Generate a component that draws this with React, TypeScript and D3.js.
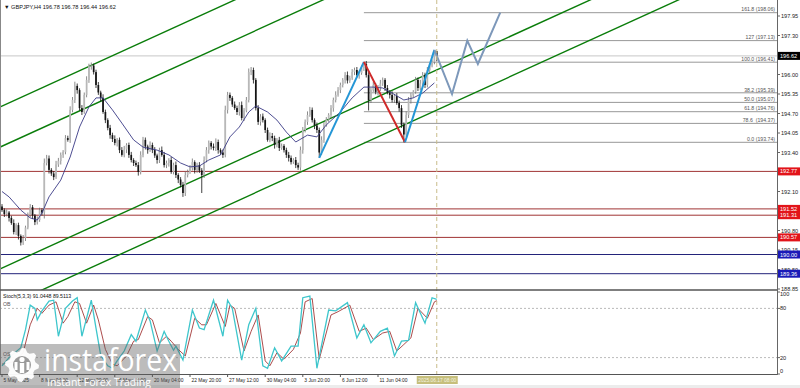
import React, { useMemo } from 'react';
import * as d3 from 'd3';

// ---------- DATA ----------
const firstOpen = 191.6;
const closes = [
  191.48, 191.35, 191.4, 191.22, 191.05, 190.75, 190.98, 190.62, 190.4, 190.55,
  190.9, 191.32, 191.58, 191.3, 191.08, 191.15, 191.48, 191.4, 193.05, 193.2,
  192.82, 192.7, 192.58, 193.0, 193.12, 193.32, 193.42, 193.88, 193.82, 194.82,
  195.15, 195.62, 195.48, 194.88, 194.75, 195.32, 195.82, 196.28, 196.3, 196.08,
  195.65, 195.4, 195.22, 194.75, 194.48, 194.22, 193.98, 193.85, 193.72, 193.82,
  193.48, 193.32, 193.5, 193.65, 193.32, 193.15, 193.05, 192.98, 192.75, 193.32,
  193.82, 193.6, 193.48, 193.65, 193.48, 193.3, 193.15, 193.48, 193.32, 192.98,
  193.05, 193.15, 192.75, 192.98, 192.65, 192.5, 192.32, 192.05, 192.65, 192.75,
  192.88, 193.08, 192.82, 192.98, 192.8, 192.65, 193.15, 193.48, 193.72, 193.6,
  193.55, 193.75, 193.48, 193.4, 193.32, 194.82, 195.32, 195.22, 195.0, 194.88,
  194.75, 194.98, 194.55, 194.8, 195.15, 196.08, 196.15, 195.82, 194.88, 194.42,
  194.6, 194.48, 194.15, 193.82, 193.95, 193.88, 193.65, 193.82, 193.55, 193.62,
  193.48, 193.32, 193.22, 193.08, 193.15, 192.98, 192.9, 193.48, 194.15, 194.42,
  194.65, 194.82, 194.48, 194.3, 194.15, 193.4, 193.82, 194.32, 194.5, 194.65,
  194.88, 195.15, 195.32, 195.48, 195.65, 195.82, 195.98, 195.8, 195.88, 196.08,
  196.15, 195.98, 196.05, 196.22, 196.35, 195.98, 195.15, 195.48, 195.65, 195.42,
  195.55, 195.7, 195.82, 195.55, 195.4, 195.32, 195.15, 195.28, 195.05, 194.88,
  194.32, 194.0, 194.65, 195.15, 195.3, 195.42, 195.82, 195.55, 195.7, 195.98,
  195.65, 196.15, 196.3, 196.42, 196.78, 196.62,
];
// wick extents beyond the body, in hundredths of a yen
const wickUp = [
  8, 6, 10, 5, 7, 12, 6, 8, 5, 10,
  6, 8, 10, 7, 5, 12, 8, 6, 15, 12,
  10, 6, 8, 12, 10, 8, 6, 10, 8, 12,
  10, 14, 8, 6, 10, 8, 12, 8, 10, 6,
  8, 10, 6, 12, 8, 6, 10, 8, 12, 6,
  8, 10, 12, 6, 8, 10, 6, 8, 10, 12,
  10, 8, 6, 12, 8, 10, 6, 8, 12, 10,
  8, 6, 10, 8, 12, 6, 8, 10, 12, 8,
  10, 12, 6, 8, 10, 8, 12, 10, 8, 6,
  10, 12, 8, 6, 10, 14, 10, 8, 6, 10,
  8, 10, 12, 8, 10, 12, 10, 8, 6, 10,
  8, 10, 6, 8, 12, 10, 8, 6, 10, 8,
  6, 8, 10, 8, 6, 10, 8, 12, 10, 8,
  12, 10, 8, 6, 10, 8, 12, 10, 8, 6,
  10, 8, 12, 10, 8, 6, 10, 12, 8, 10,
  8, 10, 6, 8, 7, 10, 12, 8, 10, 6,
  10, 12, 8, 6, 10, 8, 12, 6, 10, 8,
  10, 8, 12, 10, 8, 6, 10, 8, 12, 10,
  8, 10, 6, 8, 2, 0,
];
const wickDn = [
  6, 10, 8, 12, 6, 8, 10, 12, 10, 8,
  10, 6, 8, 12, 10, 8, 6, 10, 20, 8,
  12, 8, 10, 6, 8, 12, 10, 8, 6, 10,
  8, 10, 12, 8, 10, 6, 8, 10, 12, 8,
  10, 8, 12, 6, 10, 8, 12, 10, 8, 12,
  10, 6, 8, 12, 10, 8, 10, 6, 12, 8,
  8, 10, 12, 6, 10, 8, 12, 10, 6, 8,
  10, 12, 6, 8, 10, 12, 8, 13, 10, 8,
  6, 8, 12, 10, 8, 60, 10, 8, 12, 10,
  8, 10, 12, 8, 10, 8, 12, 10, 8, 6,
  10, 12, 8, 10, 6, 8, 10, 12, 8, 10,
  12, 8, 10, 6, 8, 10, 12, 8, 10, 6,
  8, 10, 12, 8, 6, 10, 8, 10, 12, 8,
  10, 6, 8, 12, 10, 18, 8, 10, 6, 8,
  10, 12, 8, 6, 10, 8, 12, 10, 8, 6,
  10, 8, 12, 6, 10, 8, 35, 10, 6, 8,
  12, 10, 8, 10, 6, 12, 8, 10, 6, 12,
  10, 26, 8, 10, 12, 8, 6, 10, 8, 12,
  10, 8, 12, 6, 8, 18,
];

// moving average
const maIdx = [0, 3, 8, 12, 15, 17, 20, 25, 29, 33, 37, 40, 43, 47, 51, 56, 60, 66, 71, 76, 80, 84, 88, 93, 97, 101, 105, 108, 113, 117, 121, 125, 130, 134, 138, 144, 149, 154, 158, 162, 166, 171, 175, 179, 184];
const maVal = [192.1, 191.92, 191.48, 191.22, 191.15, 191.38, 191.92, 192.48, 193.25, 194.25, 194.92, 195.22, 195.22, 194.82, 194.38, 193.82, 193.58, 193.48, 193.32, 193.05, 192.92, 192.95, 193.15, 193.32, 193.92, 194.25, 194.75, 194.95, 194.75, 194.48, 194.08, 193.75, 193.98, 193.92, 194.32, 194.75, 195.22, 195.58, 195.58, 195.55, 195.38, 195.15, 195.22, 195.38, 195.72];

// stochastic (5,3,3)
const stMainIdx = [0, 3, 8, 10, 12, 14, 15, 17, 20, 22, 24, 27, 30, 32, 34, 38, 40, 42, 45, 47, 49, 52, 55, 57, 61, 63, 66, 69, 71, 73, 74, 77, 81, 84, 86, 90, 94, 96, 98, 102, 105, 108, 111, 113, 116, 119, 123, 126, 128, 131, 134, 139, 142, 147, 151, 154, 157, 161, 164, 167, 170, 173, 176, 180, 183, 185];
const stMainVal = [10, 20, 32, 54, 84, 80, 66, 77, 89, 90, 46, 80, 89, 93, 46, 90, 56, 23, 10, 7, 16, 28, 48, 40, 78, 65, 28, 52, 40, 29, 34, 17, 78, 56, 54, 90, 46, 90, 80, 17, 60, 80, 10, 7, 32, 16, 34, 34, 93, 95, 7, 78, 77, 87, 44, 60, 38, 52, 56, 22, 40, 41, 87, 62, 93, 91.04];
const stSigIdx = [0, 5, 9, 12, 15, 17, 20, 23, 26, 28, 31, 33, 36, 39, 41, 44, 47, 49, 53, 56, 58, 62, 64, 67, 70, 72, 75, 78, 82, 85, 87, 91, 95, 97, 99, 103, 106, 109, 112, 114, 117, 120, 124, 127, 129, 132, 135, 140, 143, 148, 152, 155, 158, 162, 165, 168, 171, 174, 177, 181, 184, 185];
const stSigVal = [12, 15, 26, 60, 80, 74, 84, 88, 62, 70, 88, 86, 62, 84, 66, 30, 12, 10, 22, 40, 42, 70, 66, 38, 46, 40, 30, 22, 68, 60, 60, 86, 58, 84, 80, 28, 52, 72, 16, 10, 26, 18, 30, 50, 88, 92, 18, 72, 76, 84, 52, 56, 42, 50, 52, 28, 36, 44, 80, 68, 88, 89.51];

const priceTicks = [197.95, 197.3, 196.65, 196.0, 195.35, 194.7, 194.05, 193.4, 192.75, 192.1, 191.45, 190.8, 190.15, 189.5, 188.85];
const redLevels = [192.77, 191.52, 191.31, 190.57];
const blueLevels = [190.0, 189.36];
const currentPrice = 196.62;

const fibNames = ['161.8', '127', '100.0', '38.2', '50.0', '61.8', '78.6 ', '0.0'];
const fibPrices = [198.06, 197.13, 196.41, 195.39, 195.07, 194.76, 194.37, 193.74];
const fibStartIdx = 154;

const channelBase = [194.95, 193.61, 189.55, 188.21]; // price at bar 0
const channelSlope = 0.0357; // per bar

const zigUp1 = [[135, 193.22], [154, 196.42]];
const zigDown = [[154, 196.42], [171.5, 193.74]];
const zigUp2 = [[171.5, 193.74], [184, 196.82]];
const projIdx = [184, 191.5, 198, 202.5, 212];
const projVal = [196.82, 195.35, 197.13, 196.35, 198.06];

const tickEvery = 16;
const nowIdx = 185;

// ---------- LAYOUT ----------
const W = 800;
const H = 388;
const AX = 777;
const MAIN_BOT = 290;
const ST_TOP = 291;
const ST_BOT = 374;
const FONT = "'Liberation Sans', Arial, sans-serif";

function gearPath(cx: number, cy: number, r: number, teeth: number) {
  const p = d3.path();
  const n = teeth * 2;
  for (let k = 0; k <= n * 2; k++) {
    const a = (k / (n * 2)) * Math.PI * 2;
    const outer = Math.floor(k / 2) % 2 === 0;
    const rr = outer ? r : r * 0.8;
    const px = cx + rr * Math.cos(a);
    const py = cy + rr * Math.sin(a);
    if (k === 0) p.moveTo(px, py);
    else p.lineTo(px, py);
  }
  p.closePath();
  return p.toString();
}

export default function App() {
  const x = d3.scaleLinear().domain([0, 185]).range([2, 436.75]);
  const y = d3.scaleLinear().domain([188.85, 197.95]).range([289, 16]);
  const ys = d3.scaleLinear().domain([0, 100]).range([374, 292]);

  const times = useMemo(() => {
    const out: Date[] = [];
    let t = new Date(2025, 4, 5, 12, 0);
    while (out.length < closes.length) {
      const d = t.getDay();
      if (d !== 0 && d !== 6) out.push(t);
      t = d3.timeHour.offset(t, 4);
    }
    return out;
  }, []);

  const opens = closes.map((c, i) => (i === 0 ? firstOpen : closes[i - 1]));
  const highs = closes.map((c, i) => Math.max(opens[i], c) + wickUp[i] / 100);
  const lows = closes.map((c, i) => Math.min(opens[i], c) - wickDn[i] / 100);

  const lineXY = d3.line<number[]>().x((d) => x(d[0])).y((d) => y(d[1]));
  const stLine = d3.line<number[]>().x((d) => x(d[0])).y((d) => ys(d[1]));

  const fmtFirst = d3.timeFormat('%-d %b %Y');
  const fmtTick = d3.timeFormat('%-d %b %H:%M');
  const fmtNow = d3.timeFormat('%Y.%m.%d %H:%M');
  const tickIdx = d3.range(0, closes.length - 10, tickEvery);

  const fs = 5.6;
  const fsT = 4.9;

  return (
    <div>
      <style>{`html,body{margin:0;padding:0;background:#fff}`}</style>
      <svg width={W} height={H} style={{ display: 'block' }} fontFamily={FONT}>
        <defs>
          <clipPath id="mainClip">
            <rect x={0} y={0} width={AX} height={MAIN_BOT} />
          </clipPath>
          <clipPath id="stClip">
            <rect x={0} y={ST_TOP} width={AX} height={ST_BOT - ST_TOP} />
          </clipPath>
        </defs>
        <rect x={0} y={0} width={W} height={H} fill="#fff" />
        <rect x={0} y={385} width={W} height={3} fill="#ececec" />

        {/* main panel */}
        <g clipPath="url(#mainClip)">
          <line x1={0} x2={AX} y1={y(currentPrice)} y2={y(currentPrice)} stroke="#c8c8c8" strokeWidth={1} />
          {fibPrices.map((p, i) => (
            <line key={'f' + i} x1={x(fibStartIdx)} x2={AX} y1={y(p)} y2={y(p)} stroke="#8c8c8c" strokeWidth={0.9} />
          ))}
          {redLevels.map((p, i) => (
            <line key={'r' + i} x1={0} x2={AX} y1={y(p)} y2={y(p)} stroke="#a03434" strokeWidth={1} />
          ))}
          {blueLevels.map((p, i) => (
            <line key={'b' + i} x1={0} x2={AX} y1={y(p)} y2={y(p)} stroke="#23237a" strokeWidth={1} />
          ))}
          {channelBase.map((b, i) => (
            <line
              key={'c' + i}
              x1={x(-10)}
              x2={x(400)}
              y1={y(b - 10 * channelSlope)}
              y2={y(b + 400 * channelSlope)}
              stroke="#0a7d0a"
              strokeWidth={1.4}
            />
          ))}
          {closes.map((c, i) => {
            const o = opens[i];
            const up = c >= o;
            const cx = x(i);
            const top = y(Math.max(o, c));
            const h = Math.max(0.7, Math.abs(y(o) - y(c)));
            return (
              <g key={'k' + i}>
                <line x1={cx} x2={cx} y1={y(highs[i])} y2={y(lows[i])} stroke={up ? '#6e6e6e' : '#111'} strokeWidth={0.8} />
                <rect x={cx - 0.85} y={top} width={1.7} height={h} fill={up ? '#b8b8b8' : '#141414'} />
              </g>
            );
          })}
          <path d={lineXY(maIdx.map((d, i) => [d, maVal[i]])) || ''} fill="none" stroke="#3a3a86" strokeWidth={0.9} />
          <path d={lineXY(zigUp1) || ''} fill="none" stroke="#2496d6" strokeWidth={2} />
          <path d={lineXY(zigDown) || ''} fill="none" stroke="#cf2a2a" strokeWidth={2} />
          <path d={lineXY(zigUp2) || ''} fill="none" stroke="#2496d6" strokeWidth={2} />
          <path d={lineXY(projIdx.map((d, i) => [d, projVal[i]])) || ''} fill="none" stroke="#7d98ba" strokeWidth={2} />
          {fibPrices.map((p, i) => (
            <text key={'fl' + i} x={AX - 2} y={y(p) - 1.3} fontSize={5.2} fill="#555" textAnchor="end" style={{ whiteSpace: 'pre' }}>
              {`${fibNames[i]} (${p.toFixed(2)})`}
            </text>
          ))}
        </g>

        <line x1={x(nowIdx)} x2={x(nowIdx)} y1={0} y2={ST_BOT} stroke="#c9bc8a" strokeWidth={1} strokeDasharray="4,3" />

        <text x={4} y={9} fontSize={fs} fill="#111">
          {'▼ GBPJPY,H4  196.78 196.78 196.44 196.62'}
        </text>

        {/* stochastic panel */}
        <g clipPath="url(#stClip)">
          {[80, 20].map((v) => (
            <line key={'lv' + v} x1={0} x2={AX} y1={ys(v)} y2={ys(v)} stroke="#a8a8a8" strokeWidth={0.8} strokeDasharray="2,2" />
          ))}
          <path d={stLine(stSigIdx.map((d, i) => [d, stSigVal[i]])) || ''} fill="none" stroke="#a33838" strokeWidth={0.9} />
          <path d={stLine(stMainIdx.map((d, i) => [d, stMainVal[i]])) || ''} fill="none" stroke="#3ec6cc" strokeWidth={1.3} />
        </g>
        <text x={3} y={298} fontSize={5.2} fill="#111">Stoch(5,3,3) 91.0448 89.5113</text>
        <text x={3} y={ys(80) - 2} fontSize={5.2} fill="#555">OB</text>
        <text x={3} y={ys(20) - 2} fontSize={5.2} fill="#555">OS</text>

        {/* frames */}
        <line x1={0.5} x2={0.5} y1={0} y2={ST_BOT} stroke="#888" strokeWidth={1} />
        <line x1={0} x2={AX} y1={MAIN_BOT} y2={MAIN_BOT} stroke="#555" strokeWidth={1.5} />
        <line x1={0} x2={AX} y1={ST_BOT + 0.5} y2={ST_BOT + 0.5} stroke="#555" strokeWidth={1} />
        <line x1={AX + 0.5} x2={AX + 0.5} y1={0} y2={ST_BOT + 1} stroke="#666" strokeWidth={1} />

        {/* price axis */}
        {priceTicks.map((p, i) => (
          <g key={'pt' + i}>
            <line x1={AX} x2={AX + 3} y1={y(p)} y2={y(p)} stroke="#666" />
            <text x={AX + 4} y={y(p) + 2} fontSize={fs} fill="#222">
              {p.toFixed(2)}
            </text>
          </g>
        ))}
        {redLevels.map((p, i) => (
          <g key={'rl' + i}>
            <rect x={AX + 1} y={y(p) - 4} width={W - AX - 1} height={8} fill="#e2141a" />
            <text x={AX + 3} y={y(p) + 2} fontSize={fs} fill="#fff">
              {p.toFixed(2)}
            </text>
          </g>
        ))}
        {blueLevels.map((p, i) => (
          <g key={'bl' + i}>
            <rect x={AX + 1} y={y(p) - 4} width={W - AX - 1} height={8} fill="#1a1ab8" />
            <text x={AX + 3} y={y(p) + 2} fontSize={fs} fill="#fff">
              {p.toFixed(2)}
            </text>
          </g>
        ))}
        <rect x={AX + 1} y={y(currentPrice) - 4} width={W - AX - 1} height={8} fill="#000" />
        <text x={AX + 3} y={y(currentPrice) + 2} fontSize={fs} fill="#fff">
          {currentPrice.toFixed(2)}
        </text>

        {/* stoch axis */}
        {[100, 80, 20, 0].map((v) => (
          <g key={'sa' + v}>
            <line x1={AX} x2={AX + 3} y1={ys(v)} y2={ys(v)} stroke="#666" />
            <text x={AX + 3} y={ys(v) + (v === 100 ? 4 : v === 0 ? -1 : 2)} fontSize={fs} fill="#222">
              {v}
            </text>
          </g>
        ))}

        {/* time axis */}
        {tickIdx.map((i) => (
          <g key={'tx' + i}>
            <line x1={x(i)} x2={x(i)} y1={ST_BOT} y2={ST_BOT + 3} stroke="#555" />
            <text x={x(i) + 1.5} y={381.5} fontSize={fsT} fill="#222">
              {i === 0 ? fmtFirst(times[i]) : fmtTick(times[i])}
            </text>
          </g>
        ))}
        <rect x={x(nowIdx) - 20} y={376} width={41} height={8} fill="#c6bf7c" />
        <text x={x(nowIdx) - 18.5} y={381.5} fontSize={fsT} fill="#f4f4e0">
          {fmtNow(times[nowIdx])}
        </text>

        {/* watermark */}
        <g>
          <rect x={0} y={344} width={180} height={44} fill="rgba(95,95,95,0.42)" />
          <path d={gearPath(22, 365, 17, 8)} fill="#fff" opacity={0.95} />
          <circle cx={22} cy={365} r={9} fill="#9a9a9a" />
          <circle cx={22} cy={359.5} r={2.6} fill="#fff" />
          <rect x={19.8} y={363} width={4.4} height={10} fill="#fff" />
          <rect x={14.5} y={362} width={3} height={8} fill="#fff" />
          <rect x={26.5} y={362} width={3} height={8} fill="#fff" />
          <text x={44} y={371} fontSize={31} fill="#fff" fontFamily="'Open Sans', 'DejaVu Sans', sans-serif" textLength={133} lengthAdjust="spacingAndGlyphs">
            instaforex
          </text>
          <text x={47} y={386} fontSize={11.5} fill="#fff" fontFamily="'Open Sans', 'DejaVu Sans', sans-serif" textLength={104} lengthAdjust="spacingAndGlyphs">
            Instant Forex Trading
          </text>
        </g>
      </svg>
    </div>
  );
}
